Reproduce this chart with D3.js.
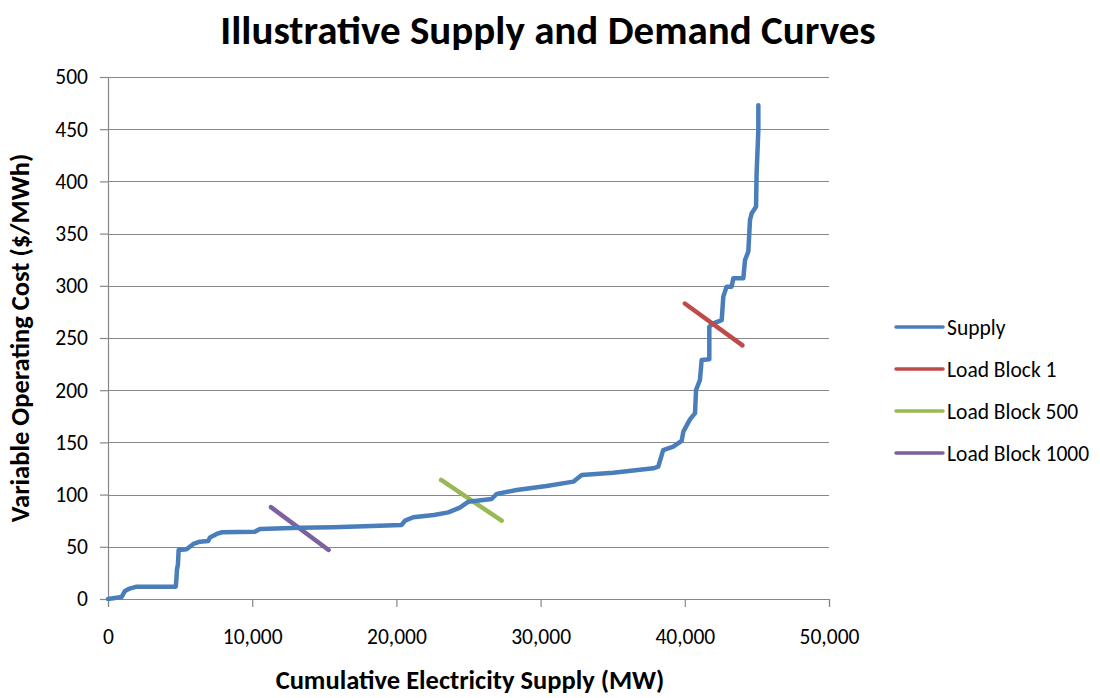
<!DOCTYPE html>
<html>
<head>
<meta charset="utf-8">
<script src="https://cdn.jsdelivr.net/npm/d3@7"></script>
<style>
  html, body { margin: 0; padding: 0; background: #fff; }
  svg { display: block; font-family: Carlito, Calibri, Lato, "Open Sans", sans-serif; }
</style>
</head>
<body>
<svg id="chart" width="1100" height="698"></svg>
<script>
// Supply stack: cumulative capacity (MW) and variable operating cost ($/MWh)
const supplyMW = [0, 950, 1180, 1500, 1990, 4700, 4750, 4780, 4850, 4900, 5450, 5920, 6380, 6950, 7070, 7540, 7880,
  10190, 10540, 13300, 15600, 18300, 20350, 20600, 21170, 22600, 23600, 24400, 25000, 26600, 26950, 28340, 30420,
  32270, 32850, 35040, 37820, 38160, 38500, 39200, 39780, 39900, 40360, 40710, 40780, 41050, 41170, 41700, 41700,
  41980, 42560, 42670, 42900, 43250, 43365, 44060, 44175, 44405, 44520, 44640, 44940, 44980, 45100, 45100];
const supplyCost = [0, 2, 7.7, 10, 11.8, 11.8, 20, 28, 33, 47, 47.6, 52.7, 54.9, 55.6, 59, 62.3, 63.9,
  64.5, 67, 68.3, 68.7, 69.9, 70.9, 75, 78.3, 80.5, 83, 87.5, 93.2, 95.8, 100.6, 104.4, 108.2,
  112.4, 118.8, 121, 125.2, 126.7, 142.7, 145.9, 151.5, 160.3, 172, 178, 200.2, 209.8, 229, 229.6, 260.8,
  264, 267.2, 289.6, 299.2, 299.2, 307.2, 307.2, 324.7, 332.7, 363, 369.4, 375.8, 407.8, 449.2, 473];

// Demand segments for three load blocks
const loadBlock1MW = [40000, 44000];
const loadBlock1Cost = [283, 243];
const loadBlock500MW = [23100, 27300];
const loadBlock500Cost = [114, 75];
const loadBlock1000MW = [11300, 15300];
const loadBlock1000Cost = [88, 47];

const seriesNames = ["Supply", "Load Block 1", "Load Block 500", "Load Block 1000"];
const seriesColors = ["#4A7EBB", "#BE4B48", "#98B954", "#7D60A0"];

const xTicks = [0, 10000, 20000, 30000, 40000, 50000];
const yTicks = [0, 50, 100, 150, 200, 250, 300, 350, 400, 450, 500];

const titleText = "Illustrative Supply and Demand Curves";
const xTitle = "Cumulative Electricity Supply (MW)";
const yTitle = "Variable Operating Cost ($/MWh)";

const svg = d3.select("#chart");
const margin = { top: 77, right: 271, bottom: 99, left: 108 };
const W = 1100, H = 698;
const iw = W - margin.left - margin.right;
const ih = H - margin.top - margin.bottom;

const x = d3.scaleLinear().domain([0, 50000]).range([0, iw]);
const y = d3.scaleLinear().domain([0, 500]).range([ih, 0]);

const g = svg.append("g").attr("transform", `translate(${margin.left},${margin.top})`);
const gridColor = "#878787";
const tickFont = "21.5px";

// horizontal gridlines
g.append("g")
  .selectAll("line")
  .data(yTicks.filter(d => d > 0))
  .join("line")
  .attr("x1", 0).attr("x2", iw)
  .attr("y1", d => Math.round(y(d)) + 0.5).attr("y2", d => Math.round(y(d)) + 0.5)
  .attr("stroke", gridColor).attr("stroke-width", 1);

// axes
const fmt = d3.format(",");
const yAxis = g.append("g")
  .call(d3.axisLeft(y).tickValues(yTicks).tickSize(8).tickPadding(12).tickFormat(d3.format("d")));
const xAxis = g.append("g")
  .attr("transform", `translate(0,${ih})`)
  .call(d3.axisBottom(x).tickValues(xTicks).tickSize(8).tickPadding(22).tickFormat(fmt));
[xAxis, yAxis].forEach(a => {
  a.select(".domain").attr("stroke", gridColor).attr("stroke-width", 1.2);
  a.selectAll(".tick line").attr("stroke", gridColor).attr("stroke-width", 1.2);
  a.selectAll(".tick text").attr("fill", "#000").style("font-size", tickFont)
    .style("font-family", "Carlito, Calibri, Lato, sans-serif");
});

// series lines
const line = d3.line().x(d => x(d[0])).y(d => y(d[1]));
const series = [
  d3.zip(supplyMW, supplyCost),
  d3.zip(loadBlock1MW, loadBlock1Cost),
  d3.zip(loadBlock500MW, loadBlock500Cost),
  d3.zip(loadBlock1000MW, loadBlock1000Cost)
];
// demand segments for the lower blocks go under the supply curve, block 1 above it
[3, 2, 0, 1].forEach(i => {
  g.append("path")
    .datum(series[i])
    .attr("d", line)
    .attr("fill", "none")
    .attr("stroke", seriesColors[i])
    .attr("stroke-width", 4.5)
    .attr("stroke-linejoin", "round")
    .attr("stroke-linecap", "round");
});

// title
svg.append("text")
  .attr("x", 548).attr("y", 44)
  .attr("text-anchor", "middle")
  .style("font-size", "41px").style("font-weight", "bold")
  .text(titleText);

// axis titles
svg.append("text")
  .attr("x", 470).attr("y", 689)
  .attr("text-anchor", "middle")
  .style("font-size", "26.5px").style("font-weight", "bold")
  .text(xTitle);
svg.append("text")
  .attr("transform", "translate(29,338) rotate(-90)")
  .attr("text-anchor", "middle")
  .style("font-size", "26.5px").style("font-weight", "bold")
  .text(yTitle);

// legend
const legend = svg.append("g").attr("transform", "translate(896,327)");
const rows = legend.selectAll("g").data(seriesNames).join("g")
  .attr("transform", (d, i) => `translate(0,${i * 42})`);
rows.append("line")
  .attr("x1", 0).attr("x2", 47).attr("y1", 0).attr("y2", 0)
  .attr("stroke", (d, i) => seriesColors[i]).attr("stroke-width", 3.5)
  .attr("stroke-linecap", "round");
rows.append("text")
  .attr("x", 51).attr("y", 0).attr("dy", "0.35em")
  .style("font-size", tickFont)
  .text(d => d);
</script>
</body>
</html>
